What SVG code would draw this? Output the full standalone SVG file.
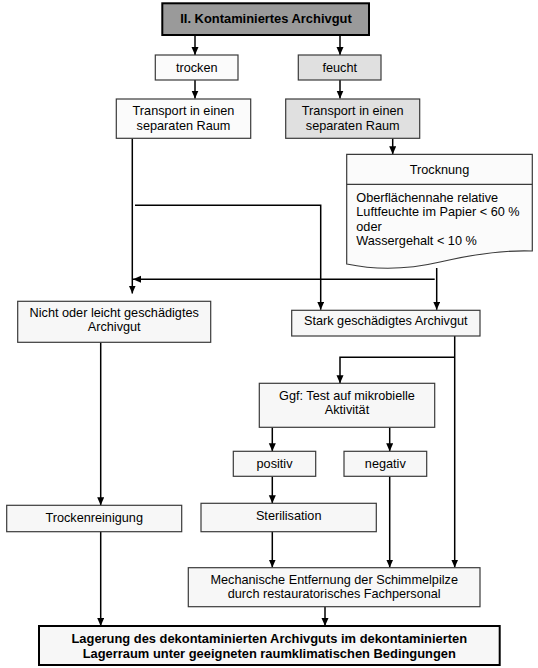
<svg xmlns="http://www.w3.org/2000/svg" width="538" height="668" viewBox="0 0 538 668">
<defs>
<style>
.bx{fill:#f7f7f7;stroke:#3a3a3a;stroke-width:1.2}
.wh{fill:#fbfbfb;stroke:#3a3a3a;stroke-width:1.2}
.gy{fill:#e0e0e0;stroke:#3a3a3a;stroke-width:1.2}
.strong{fill:#f7f7f7;stroke:#000;stroke-width:2}
.top{fill:#9a9a9a;stroke:#000;stroke-width:2}
text{font-family:"Liberation Sans",Arial,sans-serif;font-size:12.7px;fill:#000}
.c{text-anchor:middle}
.b{font-weight:bold;font-size:12.9px}
.cn{fill:none;stroke:#000;stroke-width:1.5}
</style>
<marker id="ah" markerUnits="userSpaceOnUse" markerWidth="9" markerHeight="8" refX="8" refY="3.5" orient="auto">
<path d="M0,0 L8,3.5 L0,7 z" fill="#000"/>
</marker>
</defs>
<rect width="538" height="668" fill="#fff"/>

<g id="connectors">
<path class="cn" d="M195,35 V55" marker-end="url(#ah)"/>
<path class="cn" d="M340,35 V55" marker-end="url(#ah)"/>
<path class="cn" d="M195,80 V98.5" marker-end="url(#ah)"/>
<path class="cn" d="M340,80 V98.5" marker-end="url(#ah)"/>
<path class="cn" d="M132.3,138.3 V293.5" marker-end="url(#ah)"/>
<path class="cn" d="M135,205.3 H320.7 V309.8" marker-end="url(#ah)"/>
<path class="cn" d="M392.7,138.3 V154.3" marker-end="url(#ah)"/>
<path class="cn" d="M436.7,268 V309.8" marker-end="url(#ah)"/>
<path class="cn" d="M434.7,279.3 H133" marker-end="url(#ah)"/>
<path class="cn" d="M454.7,336 V567.5" marker-end="url(#ah)"/>
<path class="cn" d="M454.7,357.3 H340 V383.3" marker-end="url(#ah)"/>
<path class="cn" d="M272.3,427.3 V451.3" marker-end="url(#ah)"/>
<path class="cn" d="M389.7,427.3 V451.3" marker-end="url(#ah)"/>
<path class="cn" d="M272.3,476.3 V503.3" marker-end="url(#ah)"/>
<path class="cn" d="M389.7,476.3 V567.5" marker-end="url(#ah)"/>
<path class="cn" d="M272.3,531.7 V567.5" marker-end="url(#ah)"/>
<path class="cn" d="M100.7,342.3 V505.3" marker-end="url(#ah)"/>
<path class="cn" d="M100.7,531.7 V626" marker-end="url(#ah)"/>
<path class="cn" d="M325,606.7 V626" marker-end="url(#ah)"/>
</g>

<g id="n-title">
<rect class="top" x="162.3" y="3.3" width="206.7" height="31.7"/>
<text class="c b" x="266" y="22.5">II. Kontaminiertes Archivgut</text>
</g>

<g id="n-trocken">
<rect class="wh" x="155.3" y="55" width="82.7" height="25"/>
<text class="c" x="196.7" y="71.7">trocken</text>
</g>

<g id="n-feucht">
<rect class="gy" x="298.3" y="55" width="82.7" height="25"/>
<text class="c" x="339.7" y="71.7">feucht</text>
</g>

<g id="n-transport-l">
<rect class="wh" x="116.3" y="99" width="134.4" height="39.3"/>
<text class="c" x="183.5" y="115">Transport in einen</text>
<text class="c" x="183.5" y="130">separaten Raum</text>
</g>

<g id="n-transport-r">
<rect class="gy" x="285.7" y="99" width="134" height="39.3"/>
<text class="c" x="352.7" y="115">Transport in einen</text>
<text class="c" x="352.7" y="130">separaten Raum</text>
</g>

<g id="n-trocknung">
<path class="wh" d="M346.7,154.3 H532.3 V251 C505,250 470,255 440,262 C410,269 380,271 346.7,264 Z"/>
<line x1="346.7" y1="184.3" x2="532.3" y2="184.3" stroke="#3a3a3a" stroke-width="1.2"/>
<text class="c" x="439.5" y="173.5">Trocknung</text>
<text x="356.3" y="202">Oberflächennahe relative</text>
<text x="356.3" y="216.3">Luftfeuchte im Papier &lt; 60 %</text>
<text x="356.3" y="230.5">oder</text>
<text x="356.3" y="244.7">Wassergehalt &lt; 10 %</text>
</g>

<g id="n-nicht">
<rect class="bx" x="17.7" y="301.3" width="193" height="41"/>
<text class="c" x="114.2" y="317">Nicht oder leicht geschädigtes</text>
<text class="c" x="114.2" y="331.3">Archivgut</text>
</g>

<g id="n-stark">
<rect class="bx" x="291.7" y="310.3" width="188.3" height="25.7"/>
<text class="c" x="385.8" y="324.7">Stark geschädigtes Archivgut</text>
</g>

<g id="n-test">
<rect class="bx" x="259.3" y="383.3" width="175.4" height="44"/>
<text class="c" x="347" y="399.7">Ggf: Test auf mikrobielle</text>
<text class="c" x="347" y="414">Aktivität</text>
</g>

<g id="n-positiv">
<rect class="bx" x="233.3" y="451.3" width="82.4" height="25"/>
<text class="c" x="274.5" y="467.5">positiv</text>
</g>

<g id="n-negativ">
<rect class="bx" x="344" y="451.3" width="82.7" height="25"/>
<text class="c" x="385.3" y="467.5">negativ</text>
</g>

<g id="n-trockenreinigung">
<rect class="bx" x="6.7" y="505.3" width="175" height="26.4"/>
<text class="c" x="94.2" y="521.7">Trockenreinigung</text>
</g>

<g id="n-sterilisation">
<rect class="bx" x="201" y="503.3" width="175.3" height="28.4"/>
<text class="c" x="288.7" y="520">Sterilisation</text>
</g>

<g id="n-mechanisch">
<rect class="bx" x="188.3" y="567.7" width="291.7" height="39"/>
<text class="c" x="334.2" y="583.7">Mechanische Entfernung der Schimmelpilze</text>
<text class="c" x="334.2" y="598.3">durch restauratorisches Fachpersonal</text>
</g>

<g id="n-lagerung">
<rect class="strong" x="39" y="626" width="460.7" height="39"/>
<text class="c b" x="269.3" y="642.7">Lagerung des dekontaminierten Archivguts im dekontaminierten</text>
<text class="c b" x="269.3" y="657.7">Lagerraum unter geeigneten raumklimatischen Bedingungen</text>
</g>
</svg>
